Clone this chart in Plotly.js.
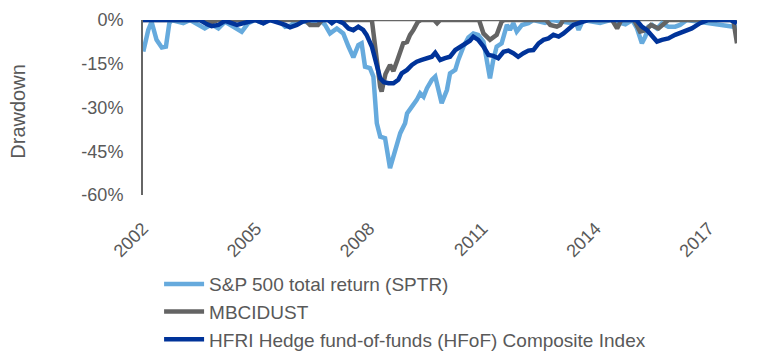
<!DOCTYPE html>
<html>
<head>
<meta charset="utf-8">
<script src="https://cdn.plot.ly/plotly-3.0.1.min.js"></script>
<style>html,body{margin:0;padding:0;background:#fff;}#chart{width:776px;height:352px;}</style>
</head>
<body>
<div id="chart"></div>
<script>
// Decimal-year positions and drawdown values (%)
const sptrT = [2002.01,2002.14,2002.23,2002.36,2002.50,2002.61,2002.70,2002.76,2003.07,2003.25,2003.64,2003.82,2004.00,2004.18,2004.40,2004.62,2004.79,2004.97,2005.19,2005.32,2005.63,2005.77,2005.90,2006.11,2006.48,2006.70,2006.83,2006.96,2007.14,2007.31,2007.45,2007.58,2007.71,2007.80,2007.89,2008.02,2008.11,2008.20,2008.29,2008.42,2008.55,2008.68,2008.82,2008.95,2009.00,2009.13,2009.26,2009.35,2009.44,2009.53,2009.66,2009.75,2009.83,2009.92,2010.06,2010.14,2010.28,2010.36,2010.50,2010.63,2010.76,2010.89,2011.03,2011.12,2011.20,2011.29,2011.38,2011.51,2011.65,2011.73,2011.82,2011.91,2012.05,2012.22,2012.35,2012.66,2012.85,2013.33,2013.46,2013.55,2013.67,2014.12,2014.39,2014.79,2014.97,2015.10,2015.23,2015.32,2015.40,2015.50,2015.63,2015.76,2015.93,2016.11,2016.24,2016.42,2017.75];
const sptr  = [-10.8,-3.4,-0.6,-6.8,-9.4,-9.1,-1.1,0,-1.1,0,-2.9,-1.5,-2.9,-0.6,-2.3,-4.0,-1.1,0,-1.1,0,-0.5,-2.3,-2.0,0,-1.2,0,-1.7,-4.6,-2.9,-4.6,-9.1,-12.8,-8.6,-8.0,-16.0,-16.5,-19.4,-35.4,-40.0,-40.5,-50.8,-44.5,-38.8,-35.4,-32.0,-29.7,-27.4,-25.1,-26.3,-23.4,-20.5,-19.4,-24.0,-28.5,-24.0,-18.3,-17.1,-13.7,-9.1,-6.0,-4.6,-5.1,-7.4,-13.7,-20.0,-13.7,-9.1,-8.0,-1.7,-3.4,-1.1,-4.0,-1.7,-1.1,0,-1.0,0,-1.0,0,-3.4,0,-1.0,0,-1.5,0,-2.9,-8.0,-5.7,-2.3,-1.7,-2.9,-1.1,-2.3,-2.3,-1.7,0,-2.5];

const mbciT = [2002.00,2003.64,2003.83,2003.99,2004.65,2004.76,2004.86,2006.30,2006.43,2006.64,2006.75,2007.23,2007.31,2007.38,2008.07,2008.20,2008.29,2008.33,2008.43,2008.55,2008.64,2008.74,2008.82,2008.90,2009.00,2009.08,2009.17,2009.29,2009.37,2009.72,2009.80,2009.88,2010.91,2011.03,2011.20,2011.38,2011.51,2011.58,2012.69,2012.80,2012.97,2013.06,2013.14,2014.44,2014.57,2014.68,2015.02,2015.18,2015.34,2015.47,2015.67,2015.79,2015.93,2017.65,2017.75];
const mbci  = [0,0,-0.7,0,0,-0.7,0,0,-1.7,-1.7,0,0,-0.7,0,0,-14.8,-23.0,-24.5,-18.5,-15.4,-17.5,-14.0,-11.4,-8.0,-7.5,-5.1,-3.4,-0.6,0,0,-1.1,0,0,-4.6,-6.8,-5.1,-0.5,0,0,-1.7,-2.3,-1.7,0,0,-2.9,0,0,-4.0,-3.4,-1.7,-2.9,-1.5,0,0,-8.0];

const hfofT = [2002.00,2003.51,2003.69,2003.82,2004.00,2004.18,2004.49,2004.79,2004.97,2005.19,2005.37,2005.77,2005.90,2006.08,2006.24,2006.38,2006.91,2007.01,2007.12,2007.31,2007.45,2007.58,2007.71,2007.84,2007.93,2008.07,2008.20,2008.29,2008.39,2008.51,2008.64,2008.77,2008.86,2009.00,2009.13,2009.26,2009.39,2009.53,2009.66,2009.75,2009.88,2010.01,2010.14,2010.28,2010.41,2010.54,2010.67,2010.76,2010.89,2011.03,2011.16,2011.29,2011.42,2011.56,2011.69,2011.82,2011.95,2012.09,2012.22,2012.35,2012.49,2012.62,2012.75,2012.88,2013.02,2013.15,2013.28,2013.41,2013.55,2013.68,2013.80,2015.08,2015.23,2015.36,2015.49,2015.63,2015.76,2015.93,2016.11,2016.33,2016.55,2016.77,2016.99,2017.57,2017.75];
const hfof  = [0,0,-1.4,-2.1,-1.7,-0.3,-1.7,-0.8,0,-1.1,0,-1.7,-2.5,-1.7,-0.5,0,0,-1.1,0,-1.1,-2.9,-3.5,-2.3,-3.4,-5.1,-9.1,-16.0,-20.0,-21.3,-21.7,-21.7,-20.5,-18.3,-17.1,-15.4,-14.3,-13.7,-13.1,-12.6,-11.2,-13.7,-13.1,-12.6,-10.3,-9.1,-8.0,-7.1,-5.7,-6.8,-9.1,-12.0,-12.3,-13.1,-10.9,-10.5,-11.4,-12.6,-11.4,-10.5,-10.3,-8.0,-6.8,-6.3,-5.1,-5.7,-4.6,-2.9,-1.7,-1.1,-0.4,0,0,-2.3,-3.4,-5.1,-7.4,-6.8,-6.3,-5.1,-4.0,-2.9,-1.1,0,0,-1.1];

const seriesNames = ['S&P 500 total return (SPTR)', 'MBCIDUST', 'HFRI Hedge fund-of-funds (HFoF) Composite Index'];
const yTickVals = [0, -15, -30, -45, -60];
const yTickText = ['0%', '-15%', '-30%', '-45%', '-60%'];
const yTitle = 'Drawdown';

function yd(t) {
  const y = Math.floor(t);
  const s = Date.UTC(y, 0, 1), e = Date.UTC(y + 1, 0, 1);
  return new Date(s + (t - y) * (e - s)).toISOString().slice(0, 10);
}

const colors = ['#66aadd', '#646464', '#003399'];
const font = 'Liberation Sans, Arial, sans-serif';
const txt = '#595959';

const traces = [[sptrT, sptr], [mbciT, mbci], [hfofT, hfof]].map((d, i) => ({
  type: 'scatter', mode: 'lines', name: seriesNames[i],
  x: d[0].map(yd), y: d[1],
  line: {color: colors[i], width: 4.5}
}));

const allT = sptrT.concat(mbciT, hfofT);
const layout = {
  width: 776, height: 352,
  margin: {l: 143, r: 39, t: 20, b: 157, autoexpand: false},
  paper_bgcolor: '#fff', plot_bgcolor: '#fff',
  font: {family: font, color: txt, size: 18},
  showlegend: true,
  legend: {xref: 'container', yref: 'container', x: 0.205, xanchor: 'left', y: 0.247, yanchor: 'top',
           bgcolor: 'rgba(0,0,0,0)', font: {family: font, size: 19, color: txt},
           itemwidth: 40, tracegroupgap: 0},
  xaxis: {type: 'date', range: [yd(Math.min(...allT)), yd(Math.max(...allT))],
          tick0: '2002-01-01', dtick: 'M36', tickformat: '%Y', tickangle: -45,
          showgrid: false, zeroline: false, showline: false, automargin: false,
          ticks: 'outside', ticklen: 15, tickcolor: 'rgba(0,0,0,0)',
          tickfont: {family: font, size: 18, color: txt}},
  yaxis: {range: [-60, 0], tickvals: yTickVals, ticktext: yTickText, automargin: false,
          showgrid: false, zeroline: false, showline: true, linecolor: '#666666', linewidth: 2,
          ticks: 'outside', ticklen: 14, tickcolor: 'rgba(0,0,0,0)',
          tickfont: {family: font, size: 18, color: txt}},
  annotations: [{text: yTitle, xref: 'paper', yref: 'paper', x: -0.2104, y: 0.476,
                 xanchor: 'center', yanchor: 'middle', textangle: -90, showarrow: false,
                 font: {family: font, size: 20, color: txt}}],
  shapes: [{type: 'line', xref: 'paper', yref: 'y', x0: 0, x1: 1, y0: 0, y1: 0,
            line: {color: '#666666', width: 2.5}, layer: 'below'}]
};

Plotly.newPlot('chart', traces, layout, {displayModeBar: false, staticPlot: true});
</script>
</body>
</html>
